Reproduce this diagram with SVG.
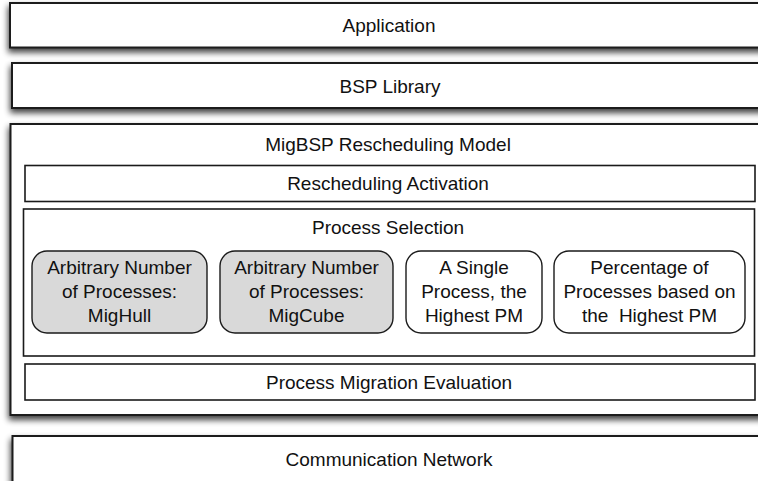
<svg xmlns="http://www.w3.org/2000/svg" width="758" height="481" viewBox="0 0 758 481">
<defs>
<filter id="sh" x="-5%" y="-20%" width="110%" height="150%">
<feGaussianBlur in="SourceAlpha" stdDeviation="3"/>
<feOffset dx="-1" dy="4" result="b"/>
<feComponentTransfer><feFuncA type="linear" slope="0.75"/></feComponentTransfer>
<feMerge><feMergeNode/><feMergeNode in="SourceGraphic"/></feMerge>
</filter>
<style>
.outer{fill:#fff;stroke:#1a1a1a;stroke-width:2}
.inner{fill:#fff;stroke:#1a1a1a;stroke-width:1.6}
.grey{fill:#d9d9d9;stroke:#1a1a1a;stroke-width:1.4}
.white{fill:#fff;stroke:#1a1a1a;stroke-width:1.4}
text{font-family:"Liberation Sans",Arial,Helvetica,sans-serif;font-size:19px;fill:#111;text-anchor:middle}
</style>
</defs>
<rect width="758" height="481" fill="#fff"/>
<g id="application">
<rect class="outer" x="10" y="3" width="770" height="44.5" filter="url(#sh)"/>
<text x="389" y="32">Application</text>
</g>
<g id="bsp-library">
<rect class="outer" x="12" y="63" width="770" height="45" filter="url(#sh)"/>
<text x="390" y="92.5">BSP Library</text>
</g>
<g id="migbsp">
<rect class="outer" x="10.5" y="124" width="770" height="291" filter="url(#sh)"/>
<text x="388" y="150.5">MigBSP Rescheduling Model</text>
</g>
<g id="rescheduling-activation">
<rect class="inner" x="25" y="165.5" width="730" height="36"/>
<text x="388" y="190">Rescheduling Activation</text>
</g>
<g id="process-selection">
<rect class="inner" x="23.5" y="209" width="731" height="147"/>
<text x="388" y="233.5">Process Selection</text>
</g>
<g id="mighull">
<rect class="grey" x="32" y="251" width="175" height="82" rx="15"/>
<text x="119.5" y="273.5">Arbitrary Number</text>
<text x="119.5" y="297.5">of Processes:</text>
<text x="119.5" y="321.5">MigHull</text>
</g>
<g id="migcube">
<rect class="grey" x="220" y="251" width="173" height="82" rx="15"/>
<text x="306.5" y="273.5">Arbitrary Number</text>
<text x="306.5" y="297.5">of Processes:</text>
<text x="306.5" y="321.5">MigCube</text>
</g>
<g id="single-process">
<rect class="white" x="406" y="251" width="136" height="82" rx="15"/>
<text x="474" y="273.5">A Single</text>
<text x="474" y="297.5">Process, the</text>
<text x="474" y="321.5">Highest PM</text>
</g>
<g id="percentage">
<rect class="white" x="554" y="251" width="191" height="82" rx="15"/>
<text x="649.5" y="273.5">Percentage of</text>
<text x="649.5" y="297.5">Processes based on</text>
<text x="649.5" y="321.5" xml:space="preserve">the  Highest PM</text>
</g>
<g id="process-migration-evaluation">
<rect class="inner" x="25" y="364" width="730" height="36"/>
<text x="389" y="389">Process Migration Evaluation</text>
</g>
<g id="communication-network">
<rect class="outer" x="12.5" y="436" width="770" height="60" filter="url(#sh)"/>
<text x="389" y="465.5">Communication Network</text>
</g>
<g id="connectors"/>
</svg>
